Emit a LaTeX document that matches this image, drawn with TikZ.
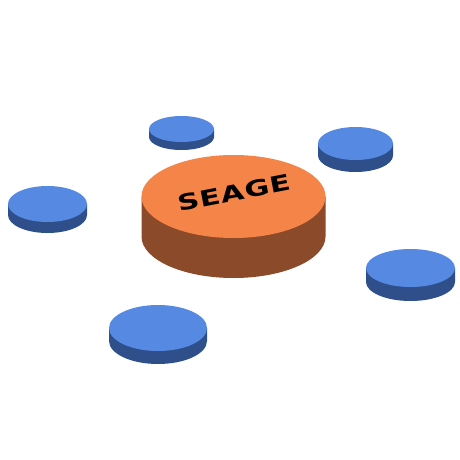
\documentclass[tikz,border=0pt]{standalone}
\usepackage{fontspec}
\newfontfamily\labelfont[LetterSpace=2]{DejaVu Sans}
\begin{document}
\begin{tikzpicture}[x=1pt, y=-1pt]
    % colours of the discs
    \definecolor{bluetop}{RGB}{86,137,226}
    \definecolor{blueside}{RGB}{47,79,138}
    \definecolor{orangetop}{RGB}{245,132,72}
    \definecolor{orangeside}{RGB}{139,74,42}

    % 1. white page 460x460
    \fill [white] (0,0) rectangle (460,460);
    \useasboundingbox (0,0) rectangle (460,460);

    % 2. small blue discs
    \fill[blueside] (149,129) -- (149,137) arc (180:0:32.5 and 13) -- (214,129) -- cycle;
    \fill[bluetop] (181.5,129) ellipse (32.5 and 13);

    \fill[blueside] (8,204) -- (8,215) arc (180:0:39.5 and 18) -- (87,204) -- cycle;
    \fill[bluetop] (47.5,204) ellipse (39.5 and 18);

    \fill[blueside] (318,143.5) -- (318,155.5) arc (180:0:37.5 and 16.5) -- (393,143.5) -- cycle;
    \fill[bluetop] (355.5,143.5) ellipse (37.5 and 16.5);

    \fill[blueside] (366,268) -- (366,282) arc (180:0:44.5 and 19) -- (455,268) -- cycle;
    \fill[bluetop] (410.5,268) ellipse (44.5 and 19);

    \fill[blueside] (109,328) -- (109,341) arc (180:0:49 and 23) -- (207,328) -- cycle;
    \fill[bluetop] (158,328) ellipse (49 and 23);

    % 3. big orange disc in the middle
    \fill[orangeside] (141.5,196.5) -- (141.5,236.5) arc (180:0:92 and 41.5) -- (325.5,196.5) -- cycle;
    \fill[orangetop] (233.5,196.5) ellipse (92 and 41.5);

    \node[rotate=11] (seage) at (234,193)
        {\scalebox{1.38}[1]{\labelfont\bfseries\fontsize{22}{22}\selectfont SEAGE}};
\end{tikzpicture}
\end{document}
